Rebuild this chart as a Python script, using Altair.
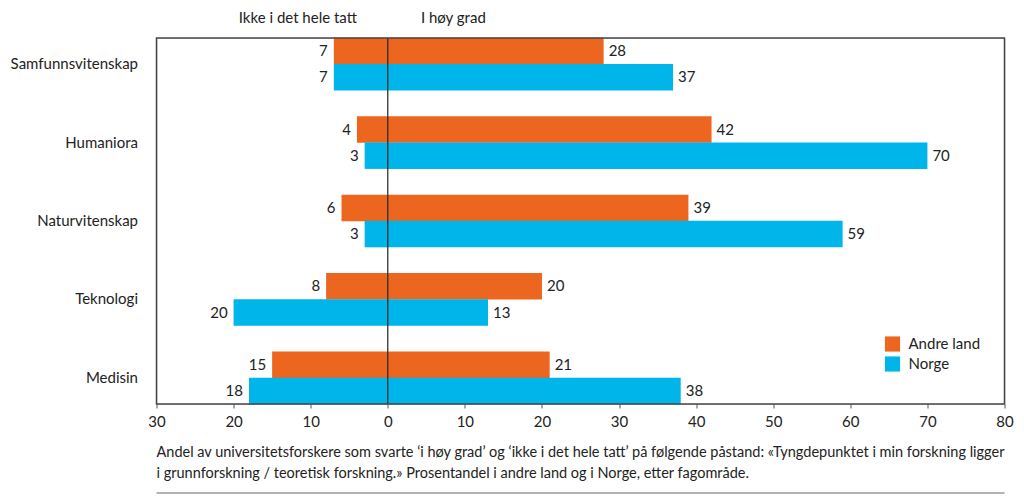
import altair as alt
import pandas as pd

categories = ["Samfunnsvitenskap", "Humaniora", "Naturvitenskap", "Teknologi", "Medisin"]
series = ["Andre land", "Norge"]
ikke_andre = [7, 4, 6, 8, 15]
ikke_norge = [7, 3, 3, 20, 18]
hoy_andre = [28, 42, 39, 20, 21]
hoy_norge = [37, 70, 59, 13, 38]
x_ticks = [-30, -20, -10, 0, 10, 20, 30, 40, 50, 60, 70, 80]
colors = ["#EC6620", "#00B5E9"]
caption = [
    "Andel av universitetsforskere som svarte \u2018i høy grad\u2019 og \u2018ikke i det hele tatt\u2019 på følgende påstand: «Tyngdepunktet i min forskning ligger",
    "i grunnforskning / teoretisk forskning.» Prosentandel i andre land og i Norge, etter fagområde.",
]

rows = []
for i, c in enumerate(categories):
    for s, ik, hg in [("Andre land", ikke_andre[i], hoy_andre[i]), ("Norge", ikke_norge[i], hoy_norge[i])]:
        rows.append({"kategori": c, "serie": s, "verdi": -ik, "label": str(ik), "side": "neg"})
        rows.append({"kategori": c, "serie": s, "verdi": hg, "label": str(hg), "side": "pos"})
df = pd.DataFrame(rows)

FONT = "Lato"
W, H = 848, 366
FS = 15

xscale = alt.Scale(domain=[-30, 80], nice=False, zero=False)
yscale = alt.Scale(domain=categories, paddingInner=0.333, paddingOuter=0)

base = alt.Chart(df).encode(
    y=alt.Y("kategori:N", scale=yscale, sort=categories,
            axis=alt.Axis(title=None, domain=False, ticks=False, labelFontSize=FS,
                          labelFont=FONT, labelColor="#222", labelPadding=19)),
    yOffset=alt.YOffset("serie:N", sort=series, scale=alt.Scale(paddingInner=0, paddingOuter=0)),
)

bars = base.mark_bar(size=26.5).encode(
    x=alt.X("verdi:Q", scale=xscale,
            axis=alt.Axis(title=None, values=x_ticks, labelExpr="abs(datum.value)",
                          grid=False, domain=False, tickSize=4, tickColor="#555",
                          labelFontSize=FS, labelFont=FONT, labelColor="#222",
                          labelPadding=6, labelFlush=False)),
    x2=alt.value(W * 30 / 110),
    color=alt.Color("serie:N", scale=alt.Scale(domain=series, range=colors),
                    legend=alt.Legend(title=None, orient="none", legendX=728, legendY=298,
                                      symbolType="square", symbolSize=230, symbolStrokeWidth=0,
                                      labelFontSize=FS, labelFont=FONT, labelColor="#222",
                                      labelOffset=8, rowPadding=4, symbolOpacity=1)),
)

neg_labels = base.transform_filter("datum.side == 'neg'").mark_text(
    align="right", dx=-6, fontSize=FS, font=FONT, color="#222").encode(
    x=alt.X("verdi:Q", scale=xscale), text="label:N")
pos_labels = base.transform_filter("datum.side == 'pos'").mark_text(
    align="left", dx=5, fontSize=FS, font=FONT, color="#222").encode(
    x=alt.X("verdi:Q", scale=xscale), text="label:N")

frame_df = pd.DataFrame({"a": [0]})
frame = alt.Chart(frame_df).mark_rect(fill=None, stroke="#444", strokeWidth=1.5).encode(
    x=alt.value(0), x2=alt.value(W), y=alt.value(0), y2=alt.value(H))

zero_line = alt.Chart(frame_df).mark_rule(color="#222", strokeWidth=1.2).encode(
    x=alt.datum(0, scale=xscale), y=alt.value(0), y2=alt.value(H))

hdr_df = pd.DataFrame({"t": ["Ikke i det hele tatt"], "x": [-4.0]})
hdr_left = alt.Chart(hdr_df).mark_text(align="right", fontSize=FS, font=FONT, color="#222").encode(
    x=alt.X("x:Q", scale=xscale), y=alt.value(-20), text="t:N")
hdr_df2 = pd.DataFrame({"t": ["I høy grad"], "x": [4.3]})
hdr_right = alt.Chart(hdr_df2).mark_text(align="left", fontSize=FS, font=FONT, color="#222").encode(
    x=alt.X("x:Q", scale=xscale), y=alt.value(-20), text="t:N")

cap_df = pd.DataFrame({"t": caption, "yy": [415, 436]})
cap = alt.Chart(cap_df).mark_text(align="left", baseline="middle", fontSize=14.5, font=FONT, color="#222").encode(
    x=alt.value(0), y=alt.Y("yy:Q", scale=None), text="t:N")

bottom_rule = alt.Chart(frame_df).mark_rule(color="#999", strokeWidth=1.5).encode(
    x=alt.value(0), x2=alt.value(W), y=alt.value(455))

chart = alt.layer(bars, neg_labels, pos_labels, zero_line, frame, hdr_left, hdr_right, cap, bottom_rule).properties(
    width=W, height=H,
    autosize=alt.AutoSizeParams(type="none"),
    padding={"left": 148.5, "top": 30, "right": 10, "bottom": 95},
).configure_view(stroke=None).configure(background="white")

chart.save("out.html", embed_options={"renderer": "svg", "actions": False})
